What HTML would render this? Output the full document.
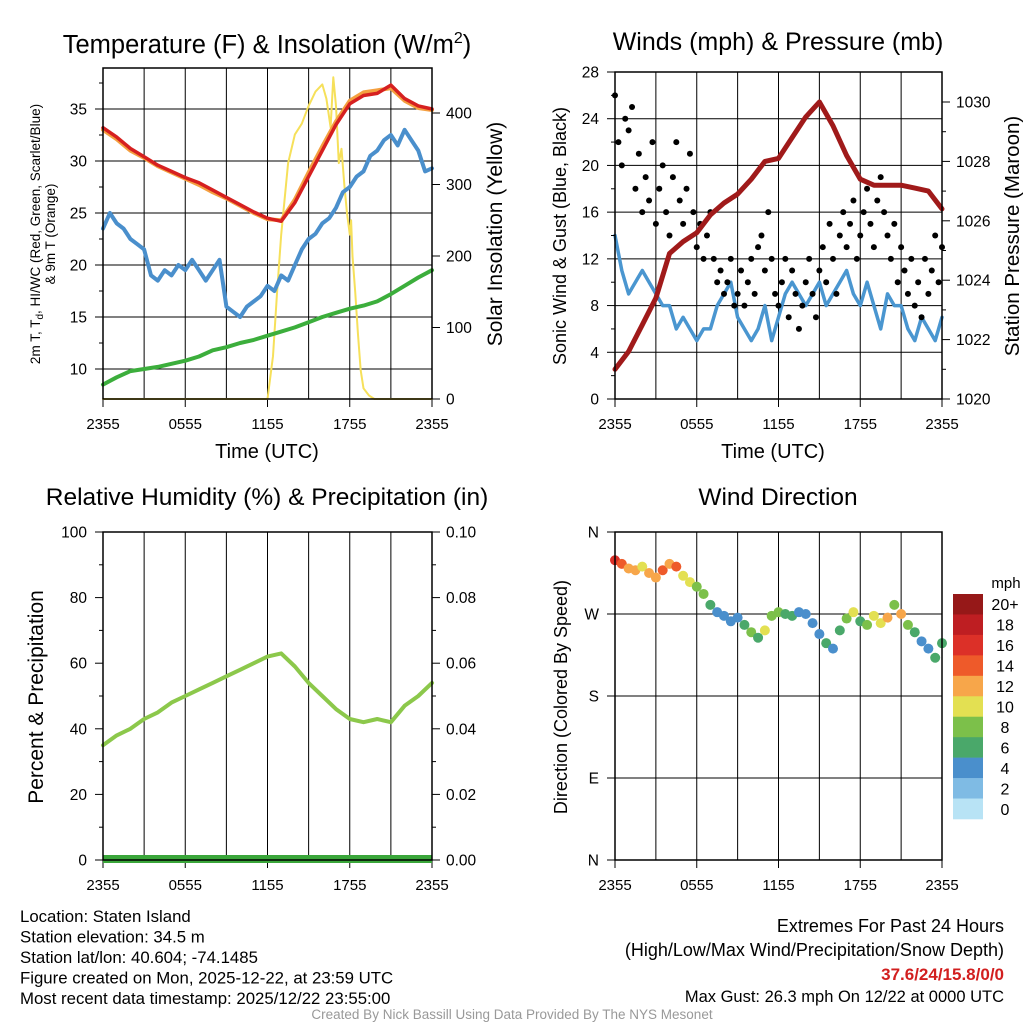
<!DOCTYPE html>
<html><head><meta charset="utf-8"><style>
body{margin:0;background:#fff;}
svg{display:block;font-family:"Liberation Sans",sans-serif;}
</style></head><body>
<svg id="c" width="1024" height="1024" viewBox="0 0 1024 1024"></svg>
<script>
// ---- data ----
const xTickLabels = ["2355","0555","1155","1755","2355"];
const tempF = [33.2,32.3,31.2,30.4,29.6,29.0,28.4,27.9,27.2,26.5,25.8,25.1,24.5,24.2,26.0,28.5,31.0,33.5,35.5,36.3,36.5,37.3,36.0,35.3,35.0];
const temp9m = [33.0,32.1,31.0,30.3,29.5,28.9,28.3,27.7,27.0,26.4,25.7,25.0,24.4,24.3,26.3,28.9,31.4,33.8,35.8,36.6,36.8,37.0,35.8,35.1,34.9];
const dewF = [23.5,25.0,24.0,23.5,22.5,22.0,21.5,19.0,18.5,19.5,19.0,20.0,19.5,20.5,19.5,18.5,19.5,20.5,16.0,15.5,15.0,16.0,16.5,17.0,18.0,17.5,19.0,18.5,20.0,21.5,22.5,23.0,24.0,24.5,25.5,27.0,27.5,28.5,29.0,30.5,31.0,32.0,32.5,31.5,33.0,32.0,31.0,29.0,29.3];
const hiwcF = [8.5,9.2,9.8,10.0,10.2,10.5,10.8,11.2,11.8,12.1,12.5,12.8,13.2,13.6,14.0,14.5,15.0,15.4,15.8,16.1,16.5,17.2,18.0,18.8,19.5];
const solarHours = [0,12.0,12.4,12.7,13.0,13.5,14.0,14.5,15.0,15.5,16.0,16.3,16.6,16.8,17.0,17.2,17.4,17.6,17.8,18.0,18.1,18.2,18.4,18.6,18.8,19.0,19.4,19.8,20.2,24];
const solarW = [0,0,60,150,230,330,370,385,410,430,440,420,380,450,410,330,350,300,260,230,250,200,150,90,40,15,5,0,0,0];
const pressureMb = [1021.0,1021.6,1022.5,1023.4,1024.9,1025.3,1025.6,1026.2,1026.6,1026.9,1027.4,1028.0,1028.1,1028.8,1029.5,1030.0,1029.2,1028.2,1027.4,1027.2,1027.2,1027.2,1027.1,1027.0,1026.4];
const windMph = [14,11,9,10,11,10,9,8,8,6,7,6,5,6,6,8,9,10,7,6,5,6,8,5,7,9,10,9,8,9,10,8,9,10,11,9,8,10,8,6,9,8,8,6,5,7,6,5,7];
const gustMph = [26,22,20,24,23,25,18,21,16,19,17,22,15,18,20,16,14,19,22,17,15,18,21,16,13,15,12,14,16,12,10,11,9,10,12,8,9,11,8,10,12,9,13,14,11,16,12,9,8,10,12,7,11,9,6,8,10,12,9,7,11,13,10,15,12,9,14,16,13,15,17,12,14,16,18,15,13,17,19,16,14,12,15,10,13,11,9,12,8,10,7,12,9,11,14,10,13];
const windDir = [329,325,320,318,322,315,310,318,325,322,312,305,300,292,280,272,268,262,266,258,250,244,252,268,272,270,268,272,270,260,248,238,232,252,265,272,262,258,268,260,266,280,270,258,250,240,232,222,238];
const windSpd = [16,14,12,13,11,12,13,14,12,15,11,10,9,8,6,4,5,4,4,6,8,7,10,9,8,6,7,4,4,5,4,6,5,7,8,10,7,9,11,10,12,8,13,9,6,5,4,6,7];
const rhPct = [35,38,40,43,45,48,50,52,54,56,58,60,62,63,59,54,50,46,43,42,43,42,47,50,54];
const cbLabels = ["20+","18","16","14","12","10","8","6","4","2","0"];
const cbColors = ["#961818","#be1e22","#dc3028","#ee5a2a","#f7a64a","#e3e052","#7cc04a","#4aa86a","#4a8fcc","#7fbbe4","#b8e3f5"];

const svg = document.getElementById('c');
const NS = 'http://www.w3.org/2000/svg';
function mk(tag, attrs, parent, name, inter){
  const e = document.createElementNS(NS, tag);
  for (const k in attrs) e.setAttribute(k, attrs[k]);
  
  
  (parent || svg).appendChild(e);
  return e;
}
function txt(x,y,s,size,anchor,name,extra){
  const t = mk('text', Object.assign({x:x,y:y,'font-size':size,'text-anchor':anchor||'middle',fill:'#000'}, extra||{}), svg, name, false);
  t.textContent = s; return t;
}
function scale(d0,d1,r0,r1){ return v => r0 + (v-d0)/(d1-d0)*(r1-r0); }
function polyline(xs, ys, color, w, name){
  let d = '';
  for (let i=0;i<xs.length;i++) d += (i?'L':'M') + xs[i].toFixed(1) + ' ' + ys[i].toFixed(1);
  mk('path',{d:d,fill:'none',stroke:color,'stroke-width':w,'stroke-linejoin':'round','stroke-linecap':'round'},svg,name,false);
}
function frame(L,T,R,B,name){
  mk('rect',{x:L,y:T,width:R-L,height:B-T,fill:'none',stroke:'#000','stroke-width':1.5},svg,name,false);
}
function vgrid(L,R,T,B,name){
  for (let i=1;i<8;i++){
    const x = L + (R-L)*i/8;
    mk('line',{x1:x,y1:T,x2:x,y2:B,stroke:'#000','stroke-width':1},svg,name,false);
  }
  for (let i=0;i<5;i++){
    const x = L + (R-L)*i/4;
    txt(x,B+30,xTickLabels[i],15,'middle','x-tick-label');
    mk('line',{x1:x,y1:B,x2:x,y2:B+8,stroke:'#000'},svg,'x-tick',false);
  }
}
function yticksL(L,sc,vals,labels,minor,name){
  vals.forEach((v,i)=>{ const y=sc(v);
    mk('line',{x1:L-8,y1:y,x2:L,y2:y,stroke:'#000'},svg,'y-tick',false);
    txt(L-16,y+5.5,labels[i],15.5,'end',name);});
  (minor||[]).forEach(v=>{const y=sc(v); mk('line',{x1:L-4,y1:y,x2:L,y2:y,stroke:'#000'},svg,'y-minor-tick',false);});
}
function yticksR(R,sc,vals,labels,minor,name){
  vals.forEach((v,i)=>{ const y=sc(v);
    mk('line',{x1:R,y1:y,x2:R+8,y2:y,stroke:'#000'},svg,'y-tick',false);
    txt(R+14,y+5.5,labels[i],15.5,'start',name);});
  (minor||[]).forEach(v=>{const y=sc(v); mk('line',{x1:R,y1:y,x2:R+4,y2:y,stroke:'#000'},svg,'y-minor-tick',false);});
}
function rotLabel(x,y,s,size,name){
  txt(x,y,s,size,'middle',name,{transform:'rotate(-90 '+x+' '+y+')'});
}
const H = tempF.map((_,i)=>i);
const H49 = windMph.map((_,i)=>i*0.5);
const HD = dewF.map((_,i)=>i*0.5);
const H97 = gustMph.map((_,i)=>i*0.25);

// ===== Panel 1 =====
{
const L=103,R=432,T=68,B=399;
const xs=scale(0,24,L,R), yL=scale(10,35,369,109), yR=scale(0,400,399,113);
vgrid(L,R,T,B,'temp-grid-line');
[10,15,20,25,30,35].forEach(v=>mk('line',{x1:L,y1:yL(v),x2:R,y2:yL(v),stroke:'#000','stroke-width':1},svg,'temp-h-grid',false));
polyline(solarHours.map(xs), solarW.map(yR), '#f6e05a', 2, 'solar-line');
polyline(H.map(xs), hiwcF.map(yL), '#3cae3c', 4, 'hiwc-line');
polyline(HD.map(xs), dewF.map(yL), '#4a8fcc', 4, 'dewpoint-line');
polyline(H.map(xs), temp9m.map(yL), '#f4a040', 4, 'temp-9m-line');
polyline(H.map(xs), tempF.map(yL), '#d62020', 3.5, 'temp-2m-line');
frame(L,T,R,B,'temp-plot-frame');
yticksL(L,yL,[10,15,20,25,30,35],["10","15","20","25","30","35"],[12.5,17.5,22.5,27.5,32.5,37.5],'temp-y-tick-label');
yticksR(R,yR,[0,100,200,300,400],["0","100","200","300","400"],[],'solar-y-tick-label');
const t=txt(267,53,'',25.5,'middle','temp-panel-title'); t.innerHTML='Temperature (F) &amp; Insolation (W/m<tspan dy="-10" font-size="16">2</tspan><tspan dy="10">)</tspan>';
txt(267,458,'Time (UTC)',20,'middle','x-axis-title');
const a=txt(40,234,'',13.5,'middle','temp-y-axis-title',{transform:'rotate(-90 40 234)'}); a.innerHTML='2m T, T<tspan dy="3" font-size="10">d</tspan><tspan dy="-3">, HI/WC (Red, Green, Scarlet/Blue)</tspan>';
rotLabel(55,234,'& 9m T (Orange)',13.5,'temp-y-axis-title-2');
rotLabel(502,234,'Solar Insolation (Yellow)',21,'solar-y-axis-title');
}
// ===== Panel 2 =====
{
const L=615,R=942,T=72,B=399;
const xs=scale(0,24,L,R), yL=scale(0,28,B,T), yR=scale(1020,1030,B,102);
vgrid(L,R,T,B,'wind-grid-line');
[4,8,12,16,20,24].forEach(v=>mk('line',{x1:L,y1:yL(v),x2:R,y2:yL(v),stroke:'#000','stroke-width':1},svg,'wind-h-grid',false));
polyline(H49.map(xs), windMph.map(yL), '#4a96d0', 3.5, 'sonic-wind-line');
gustMph.forEach((g,i)=>{ mk('circle',{cx:xs(H97[i]),cy:yL(g),r:3,fill:'#000'},svg,'gust-point',false); });
polyline(H.map(xs), pressureMb.map(yR), '#a01a1a', 5, 'pressure-line');
frame(L,T,R,B,'wind-plot-frame');
yticksL(L,yL,[0,4,8,12,16,20,24,28],["0","4","8","12","16","20","24","28"],[2,6,10,14,18,22,26],'wind-y-tick-label');
yticksR(R,yR,[1020,1022,1024,1026,1028,1030],["1020","1022","1024","1026","1028","1030"],[1021,1023,1025,1027,1029],'pressure-y-tick-label');
txt(778,50,'Winds (mph) & Pressure (mb)',25,'middle','wind-panel-title');
txt(773,458,'Time (UTC)',20,'middle','x-axis-title');
rotLabel(566,236,'Sonic Wind & Gust (Blue, Black)',18,'wind-y-axis-title');
rotLabel(1019,236,'Station Pressure (Maroon)',20.5,'pressure-y-axis-title');
}
// ===== Panel 3 =====
{
const L=103,R=432,T=532,B=860;
const xs=scale(0,24,L,R), yL=scale(0,100,B,T);
vgrid(L,R,T,B,'rh-grid-line');
polyline(H.map(xs), rhPct.map(yL), '#8cc84b', 4, 'rh-line');
mk('line',{x1:L,y1:B-1,x2:R,y2:B-1,stroke:'#3aa63a','stroke-width':8},svg,'precip-line',false);
frame(L,T,R,B,'rh-plot-frame');
yticksL(L,yL,[0,20,40,60,80,100],["0","20","40","60","80","100"],[10,30,50,70,90],'rh-y-tick-label');
yticksR(R,yL,[0,20,40,60,80,100],["0.00","0.02","0.04","0.06","0.08","0.10"],[10,30,50,70,90],'precip-y-tick-label');
txt(267,505,'Relative Humidity (%) & Precipitation (in)',24.5,'middle','rh-panel-title');
rotLabel(43,697,'Percent & Precipitation',21,'rh-y-axis-title');
}
// ===== Panel 4 =====
{
const L=615,R=942,T=532,B=860;
const xs=scale(0,24,L,R), yL=scale(0,360,B,T);
vgrid(L,R,T,B,'dir-grid-line');
[90,180,270,360].forEach(v=>mk('line',{x1:L,y1:yL(v),x2:R,y2:yL(v),stroke:'#000','stroke-width':1},svg,'dir-h-grid',false));
const ci = s => Math.max(0, Math.min(10, 10 - Math.floor(s/2)));
windDir.forEach((d,i)=>{
  mk('circle',{cx:xs(H49[i]),cy:yL(d),r:5,fill:cbColors[ci(windSpd[i])]},svg,'wind-dir-point',false);
});
frame(L,T,R,B,'dir-plot-frame');
yticksL(L,yL,[0,90,180,270,360],["N","E","S","W","N"],[],'dir-y-tick-label');
txt(778,505,'Wind Direction',24.5,'middle','dir-panel-title');
rotLabel(567,697,'Direction (Colored By Speed)',18,'dir-y-axis-title');
const cbT=594, cbH=(819-594)/11;
cbColors.forEach((c,i)=>{
  mk('rect',{x:953,y:cbT+i*cbH,width:30,height:cbH+0.3,fill:c},svg,'colorbar-box',false);
  txt(1005,cbT+i*cbH+cbH/2+6,cbLabels[i],16,'middle','colorbar-label');
});
txt(1006,588,'mph',15,'middle','colorbar-title');
}
// ===== footer text =====
["Location: Staten Island","Station elevation: 34.5 m","Station lat/lon: 40.604; -74.1485","Figure created on Mon, 2025-12-22, at 23:59 UTC","Most recent data timestamp: 2025/12/22 23:55:00"].forEach((s,i)=>txt(20,922+i*20.5,s,16.8,'start','station-info-line'));
txt(1004,932,'Extremes For Past 24 Hours',18,'end','extremes-title');
txt(1004,956,'(High/Low/Max Wind/Precipitation/Snow Depth)',18,'end','extremes-subtitle');
txt(1004,980,'37.6/24/15.8/0/0',17,'end','extremes-values',{fill:'#d21f1f','font-weight':'bold'});
txt(1004,1002,'Max Gust: 26.3 mph On 12/22 at 0000 UTC',16.5,'end','max-gust');
txt(512,1019,'Created By Nick Bassill Using Data Provided By The NYS Mesonet',13.5,'middle','credit-footer',{fill:'#999'});
</script>
</body></html>
